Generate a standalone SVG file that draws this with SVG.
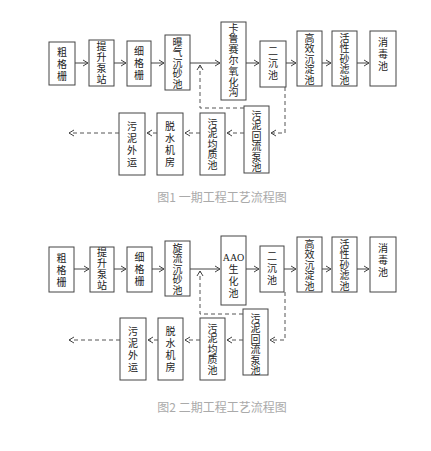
<svg xmlns="http://www.w3.org/2000/svg" width="431" height="451" viewBox="0 0 431 451">
<defs>
<marker id="ah" markerWidth="8" markerHeight="8" refX="6" refY="4" orient="auto" markerUnits="userSpaceOnUse">
<polyline points="1,1 6,4 1,7" fill="none" stroke="#444" stroke-width="1"/>
</marker>
<style>
.b{fill:#fff;stroke:#444;stroke-width:1}
.t{font-family:"Liberation Serif","Noto Sans CJK SC",serif;font-size:10px;fill:#222;text-anchor:middle}
.s{fill:none;stroke:#444;stroke-width:1}
.d{fill:none;stroke:#555;stroke-width:1;stroke-dasharray:4,3}
.c{font-family:"Noto Sans CJK SC",sans-serif;font-size:12px;fill:#aaa;text-anchor:middle}
</style>
</defs>
<rect width="431" height="451" fill="#fff"/>

<!-- Diagram 1 -->
<g id="n1-cgs"><rect class="b" x="49" y="42" width="26" height="43"/><text class="t" x="62" y="55.5"><tspan x="62">粗</tspan><tspan x="62" dy="12">格</tspan><tspan x="62" dy="12">栅</tspan></text></g>
<g id="n1-tsbz"><rect class="b" x="89" y="40" width="25" height="46"/><text class="t" x="101.5" y="50"><tspan x="101.5">提</tspan><tspan x="101.5" dy="11">升</tspan><tspan x="101.5" dy="11">泵</tspan><tspan x="101.5" dy="11">站</tspan></text></g>
<g id="n1-xgs"><rect class="b" x="127" y="41" width="24" height="45"/><text class="t" x="139" y="55"><tspan x="139">细</tspan><tspan x="139" dy="12">格</tspan><tspan x="139" dy="12">栅</tspan></text></g>
<g id="n1-bqcsc"><rect class="b" x="165" y="35" width="25" height="55"/><text class="t" x="177.5" y="45.5"><tspan x="177.5">曝</tspan><tspan x="177.5" dy="10.5">气</tspan><tspan x="177.5" dy="10.5">沉</tspan><tspan x="177.5" dy="10.5">砂</tspan><tspan x="177.5" dy="10.5">池</tspan></text></g>
<g id="n1-klsr"><rect class="b" x="221" y="22" width="25" height="78"/><text class="t" x="233.5" y="31.5"><tspan x="233.5">卡</tspan><tspan x="233.5" dy="10.8">鲁</tspan><tspan x="233.5" dy="10.8">赛</tspan><tspan x="233.5" dy="10.8">尔</tspan><tspan x="233.5" dy="10.8">氧</tspan><tspan x="233.5" dy="10.8">化</tspan><tspan x="233.5" dy="10.8">沟</tspan></text></g>
<g id="n1-ecc"><rect class="b" x="260" y="41" width="26" height="46"/><text class="t" x="273" y="55"><tspan x="273">二</tspan><tspan x="273" dy="12">沉</tspan><tspan x="273" dy="12">池</tspan></text></g>
<g id="n1-gxcdc"><rect class="b" x="297" y="31" width="25" height="55"/><text class="t" x="309.5" y="41.5"><tspan x="309.5">高</tspan><tspan x="309.5" dy="10.5">效</tspan><tspan x="309.5" dy="10.5">沉</tspan><tspan x="309.5" dy="10.5">淀</tspan><tspan x="309.5" dy="10.5">池</tspan></text></g>
<g id="n1-hxslc"><rect class="b" x="332" y="31" width="25" height="55"/><text class="t" x="344.5" y="41.5"><tspan x="344.5">活</tspan><tspan x="344.5" dy="10.5">性</tspan><tspan x="344.5" dy="10.5">砂</tspan><tspan x="344.5" dy="10.5">滤</tspan><tspan x="344.5" dy="10.5">池</tspan></text></g>
<g id="n1-xdc"><rect class="b" x="370" y="31" width="26" height="55"/><text class="t" x="383" y="45.5"><tspan x="383">消</tspan><tspan x="383" dy="12">毒</tspan><tspan x="383" dy="12">池</tspan></text></g>
<g id="n1-hlbc"><rect class="b" x="244" y="106" width="25" height="67"/><text class="t" x="256.5" y="118.5"><tspan x="256.5">污</tspan><tspan x="256.5" dy="10.5">泥</tspan><tspan x="256.5" dy="10.5">回</tspan><tspan x="256.5" dy="10.5">流</tspan><tspan x="256.5" dy="10.5">泵</tspan><tspan x="256.5" dy="10.5">池</tspan></text></g>
<g id="n1-jzc"><rect class="b" x="200" y="113" width="25" height="62"/><text class="t" x="212.5" y="126.5"><tspan x="212.5">污</tspan><tspan x="212.5" dy="10.5">泥</tspan><tspan x="212.5" dy="10.5">均</tspan><tspan x="212.5" dy="10.5">质</tspan><tspan x="212.5" dy="10.5">池</tspan></text></g>
<g id="n1-tsjf"><rect class="b" x="157" y="113" width="26" height="62"/><text class="t" x="170" y="129.5"><tspan x="170">脱</tspan><tspan x="170" dy="12">水</tspan><tspan x="170" dy="12">机</tspan><tspan x="170" dy="12">房</tspan></text></g>
<g id="n1-wnwy"><rect class="b" x="119" y="113" width="26" height="62"/><text class="t" x="132" y="129.5"><tspan x="132">污</tspan><tspan x="132" dy="12">泥</tspan><tspan x="132" dy="12">外</tspan><tspan x="132" dy="12">运</tspan></text></g>

<g id="edges1">
<line class="s" x1="75" y1="63" x2="88" y2="63" marker-end="url(#ah)"/>
<line class="s" x1="114" y1="63" x2="126" y2="63" marker-end="url(#ah)"/>
<line class="s" x1="151" y1="63" x2="164" y2="63" marker-end="url(#ah)"/>
<line class="s" x1="190" y1="63" x2="220" y2="63" marker-end="url(#ah)"/>
<line class="s" x1="246" y1="63" x2="259" y2="63" marker-end="url(#ah)"/>
<line class="s" x1="286" y1="63" x2="296" y2="63" marker-end="url(#ah)"/>
<line class="s" x1="322" y1="63" x2="331" y2="63" marker-end="url(#ah)"/>
<line class="s" x1="357" y1="63" x2="369" y2="63" marker-end="url(#ah)"/>
<polyline class="d" points="285,87 285,133 271,133" marker-end="url(#ah)"/>
<line class="d" x1="244" y1="133" x2="227" y2="133" marker-end="url(#ah)"/>
<line class="d" x1="200" y1="133" x2="185" y2="133" marker-end="url(#ah)"/>
<line class="d" x1="157" y1="133" x2="147" y2="133" marker-end="url(#ah)"/>
<line class="d" x1="119" y1="133" x2="69" y2="133" marker-end="url(#ah)"/>
<polyline class="d" points="244,108 200,108 200,65" marker-end="url(#ah)"/>
</g>
<text class="c" x="222" y="202">图1 一期工程工艺流程图</text>

<!-- Diagram 2 -->
<g id="n2-cgs"><rect class="b" x="49" y="247" width="25" height="45"/><text class="t" x="61.5" y="261.5"><tspan x="61.5">粗</tspan><tspan x="61.5" dy="12">格</tspan><tspan x="61.5" dy="12">栅</tspan></text></g>
<g id="n2-tsbz"><rect class="b" x="90" y="247" width="24" height="45"/><text class="t" x="102" y="256"><tspan x="102">提</tspan><tspan x="102" dy="11">升</tspan><tspan x="102" dy="11">泵</tspan><tspan x="102" dy="11">站</tspan></text></g>
<g id="n2-xgs"><rect class="b" x="127" y="247" width="25" height="45"/><text class="t" x="139.5" y="261"><tspan x="139.5">细</tspan><tspan x="139.5" dy="12">格</tspan><tspan x="139.5" dy="12">栅</tspan></text></g>
<g id="n2-xlcsc"><rect class="b" x="165" y="241" width="25" height="55"/><text class="t" x="177.5" y="251.5"><tspan x="177.5">旋</tspan><tspan x="177.5" dy="10.5">流</tspan><tspan x="177.5" dy="10.5">沉</tspan><tspan x="177.5" dy="10.5">砂</tspan><tspan x="177.5" dy="10.5">池</tspan></text></g>
<g id="n2-aao"><rect class="b" x="221" y="236" width="25" height="69"/><text class="t" x="233.5" y="261"><tspan x="233.5" font-size="10">AAO</tspan><tspan x="233.5" dy="12">生</tspan><tspan x="233.5" dy="12">化</tspan><tspan x="233.5" dy="12">池</tspan></text></g>
<g id="n2-ecc"><rect class="b" x="260" y="246" width="24" height="46"/><text class="t" x="272" y="259.5"><tspan x="272">二</tspan><tspan x="272" dy="12">沉</tspan><tspan x="272" dy="12">池</tspan></text></g>
<g id="n2-gxcdc"><rect class="b" x="297" y="237" width="25" height="55"/><text class="t" x="309.5" y="247.5"><tspan x="309.5">高</tspan><tspan x="309.5" dy="10.5">效</tspan><tspan x="309.5" dy="10.5">沉</tspan><tspan x="309.5" dy="10.5">淀</tspan><tspan x="309.5" dy="10.5">池</tspan></text></g>
<g id="n2-hxslc"><rect class="b" x="332" y="237" width="25" height="55"/><text class="t" x="344.5" y="247.5"><tspan x="344.5">活</tspan><tspan x="344.5" dy="10.5">性</tspan><tspan x="344.5" dy="10.5">砂</tspan><tspan x="344.5" dy="10.5">滤</tspan><tspan x="344.5" dy="10.5">池</tspan></text></g>
<g id="n2-xdc"><rect class="b" x="370" y="237" width="26" height="55"/><text class="t" x="383" y="251.5"><tspan x="383">消</tspan><tspan x="383" dy="12">毒</tspan><tspan x="383" dy="12">池</tspan></text></g>
<g id="n2-hlbc"><rect class="b" x="243" y="309" width="25" height="66"/><text class="t" x="255.5" y="321.5"><tspan x="255.5">污</tspan><tspan x="255.5" dy="10.5">泥</tspan><tspan x="255.5" dy="10.5">回</tspan><tspan x="255.5" dy="10.5">流</tspan><tspan x="255.5" dy="10.5">泵</tspan><tspan x="255.5" dy="10.5">池</tspan></text></g>
<g id="n2-jzc"><rect class="b" x="200" y="318" width="25" height="62"/><text class="t" x="212.5" y="331.5"><tspan x="212.5">污</tspan><tspan x="212.5" dy="10.5">泥</tspan><tspan x="212.5" dy="10.5">均</tspan><tspan x="212.5" dy="10.5">质</tspan><tspan x="212.5" dy="10.5">池</tspan></text></g>
<g id="n2-tsjf"><rect class="b" x="158" y="318" width="25" height="62"/><text class="t" x="170.5" y="334.5"><tspan x="170.5">脱</tspan><tspan x="170.5" dy="12">水</tspan><tspan x="170.5" dy="12">机</tspan><tspan x="170.5" dy="12">房</tspan></text></g>
<g id="n2-wnwy"><rect class="b" x="120" y="318" width="26" height="62"/><text class="t" x="133" y="334.5"><tspan x="133">污</tspan><tspan x="133" dy="12">泥</tspan><tspan x="133" dy="12">外</tspan><tspan x="133" dy="12">运</tspan></text></g>

<g id="edges2">
<line class="s" x1="74" y1="269" x2="89" y2="269" marker-end="url(#ah)"/>
<line class="s" x1="114" y1="269" x2="126" y2="269" marker-end="url(#ah)"/>
<line class="s" x1="152" y1="269" x2="164" y2="269" marker-end="url(#ah)"/>
<line class="s" x1="190" y1="269" x2="220" y2="269" marker-end="url(#ah)"/>
<line class="s" x1="246" y1="269" x2="259" y2="269" marker-end="url(#ah)"/>
<line class="s" x1="284" y1="269" x2="296" y2="269" marker-end="url(#ah)"/>
<line class="s" x1="322" y1="269" x2="331" y2="269" marker-end="url(#ah)"/>
<line class="s" x1="357" y1="269" x2="369" y2="269" marker-end="url(#ah)"/>
<polyline class="d" points="285,292 285,340 270,340" marker-end="url(#ah)"/>
<line class="d" x1="243" y1="340" x2="227" y2="340" marker-end="url(#ah)"/>
<line class="d" x1="200" y1="340" x2="185" y2="340" marker-end="url(#ah)"/>
<line class="d" x1="158" y1="340" x2="148" y2="340" marker-end="url(#ah)"/>
<line class="d" x1="120" y1="340" x2="69" y2="340" marker-end="url(#ah)"/>
<polyline class="d" points="243,314 200,314 200,271" marker-end="url(#ah)"/>
</g>
<text class="c" x="222" y="412">图2 二期工程工艺流程图</text>
</svg>
